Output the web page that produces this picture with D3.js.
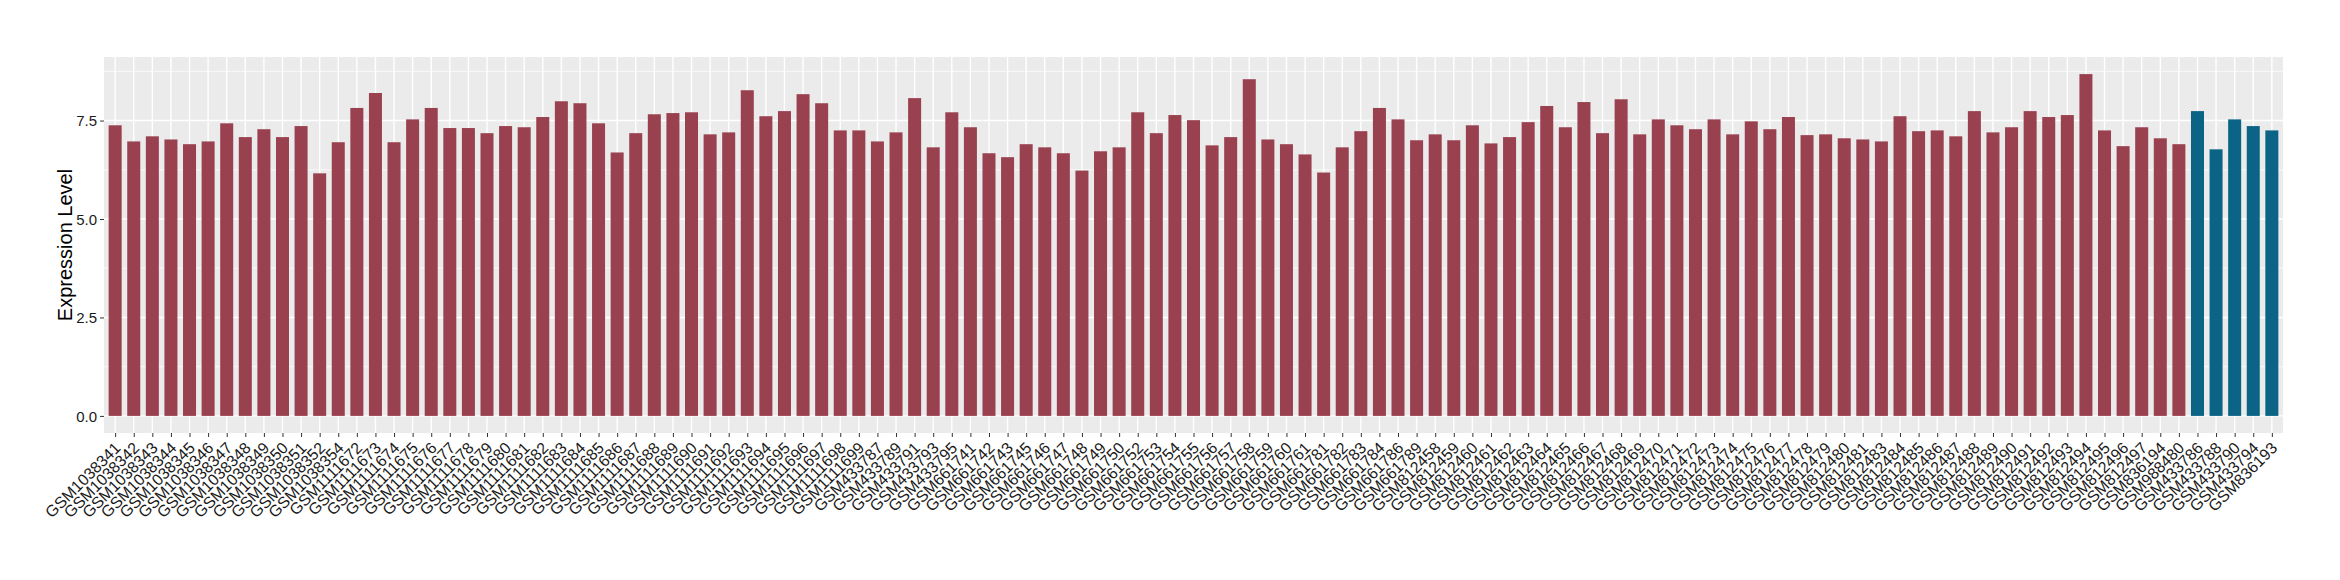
<!DOCTYPE html>
<html>
<head>
<meta charset="utf-8">
<script src="https://cdn.jsdelivr.net/npm/d3@7"></script>
<style>
    body { margin: 0; background: #ffffff; }
    .panel { fill: #ebebeb; }
    .gridMajor { stroke: #ffffff; stroke-width: 1.4; }
    .gridMinor { stroke: #ffffff; stroke-width: 0.7; }
    .axis text { font-family: "Liberation Sans", Arial, sans-serif; font-size: 15px; fill: #1a1a1a; }
    .xAxis text { font-size: 16px; }
    .axis line { stroke: #333333; }
    .axisTitle { font-family: "Liberation Sans", Arial, sans-serif; font-size: 20px; fill: #000000; }
</style>
</head>
<body>
<script>
//sample ids along the x axis
var samples = [
    "GSM1038341","GSM1038342","GSM1038343","GSM1038344","GSM1038345","GSM1038346","GSM1038347",
    "GSM1038348","GSM1038349","GSM1038350","GSM1038351","GSM1038352","GSM1038354",
    "GSM1111672","GSM1111673","GSM1111674","GSM1111675","GSM1111676","GSM1111677","GSM1111678",
    "GSM1111679","GSM1111680","GSM1111681","GSM1111682","GSM1111683","GSM1111684","GSM1111685",
    "GSM1111686","GSM1111687","GSM1111688","GSM1111689","GSM1111690","GSM1111691","GSM1111692",
    "GSM1111693","GSM1111694","GSM1111695","GSM1111696","GSM1111697","GSM1111698","GSM1111699",
    "GSM433787","GSM433789","GSM433791","GSM433793","GSM433795",
    "GSM661741","GSM661742","GSM661743","GSM661745","GSM661746","GSM661747","GSM661748",
    "GSM661749","GSM661750","GSM661752","GSM661753","GSM661754","GSM661755","GSM661756",
    "GSM661757","GSM661758","GSM661759","GSM661760","GSM661761","GSM661781","GSM661782",
    "GSM661783","GSM661784","GSM661786","GSM661789",
    "GSM812458","GSM812459","GSM812460","GSM812461","GSM812462","GSM812463","GSM812464",
    "GSM812465","GSM812466","GSM812467","GSM812468","GSM812469","GSM812470","GSM812471",
    "GSM812472","GSM812473","GSM812474","GSM812475","GSM812476","GSM812477","GSM812478",
    "GSM812479","GSM812480","GSM812481","GSM812483","GSM812484","GSM812485","GSM812486",
    "GSM812487","GSM812488","GSM812489","GSM812490","GSM812491","GSM812492","GSM812493",
    "GSM812494","GSM812495","GSM812496","GSM812497",
    "GSM836194","GSM988480",
    "GSM433786","GSM433788","GSM433790","GSM433794","GSM836193"
];

//expression level of each sample, same order
var expression = [
    7.38, 6.97, 7.10, 7.02, 6.90, 6.97, 7.43, 7.08, 7.28, 7.08, 7.36, 6.16, 6.95,
    7.82, 8.20, 6.95, 7.53, 7.82, 7.31, 7.31, 7.18, 7.36, 7.33, 7.59, 7.99, 7.94, 7.43,
    6.69, 7.18, 7.66, 7.69, 7.71, 7.15, 7.20, 8.27, 7.61, 7.74, 8.17, 7.94, 7.25, 7.25,
    6.97, 7.20, 8.07, 6.82, 7.71,
    7.33, 6.67, 6.57, 6.90, 6.82, 6.67, 6.23, 6.72, 6.82, 7.71, 7.18, 7.64, 7.51, 6.87,
    7.08, 8.55, 7.02, 6.90, 6.64, 6.18, 6.82, 7.23, 7.82, 7.53, 7.00,
    7.15, 7.00, 7.38, 6.92, 7.08, 7.46, 7.87, 7.33, 7.97, 7.18, 8.04, 7.15, 7.53, 7.38,
    7.28, 7.53, 7.15, 7.48, 7.28, 7.59, 7.13, 7.15, 7.05, 7.02, 6.97, 7.61, 7.23, 7.25,
    7.10, 7.74, 7.20, 7.33, 7.74, 7.59, 7.64, 8.68, 7.25, 6.85, 7.33,
    7.05, 6.90,
    7.74, 6.77, 7.53, 7.36, 7.25
];

//samples drawn in the second colour
var highlighted = ["GSM433786","GSM433788","GSM433790","GSM433794","GSM836193"];

//y axis tick labels
var yTicks = [0, 2.5, 5, 7.5];
var yMinor = [1.25, 3.75, 6.25, 8.75];

window.onload = function(){
    setChart();
};

function setChart(){
    var width = 2340,
        height = 580;

    //panel edges
    var left = 104,
        right = 2283,
        top = 57,
        bottom = 433;

    var svg = d3.select("body")
        .append("svg")
        .attr("width", width)
        .attr("height", height);

    //ggplot style discrete scale, 0.6 band padding on each end
    var n = samples.length;
    var step = (right - left) / (n - 1 + 1.2);
    var xScale = d3.scalePoint()
        .domain(samples)
        .range([left + 0.6 * step, right - 0.6 * step]);

    //5% expansion on the y range
    var yMax = d3.max(expression);
    var yScale = d3.scaleLinear()
        .domain([-yMax * 0.05, yMax * 1.05])
        .range([bottom, top]);

    svg.append("rect")
        .attr("class", "panel")
        .attr("x", left)
        .attr("y", top)
        .attr("width", right - left)
        .attr("height", bottom - top);

    //minor then major grid lines
    svg.selectAll(".gridMinor")
        .data(yMinor)
        .enter()
        .append("line")
        .attr("class", "gridMinor")
        .attr("x1", left)
        .attr("x2", right)
        .attr("y1", function(d){ return yScale(d); })
        .attr("y2", function(d){ return yScale(d); });

    svg.selectAll(".gridY")
        .data(yTicks)
        .enter()
        .append("line")
        .attr("class", "gridMajor gridY")
        .attr("x1", left)
        .attr("x2", right)
        .attr("y1", function(d){ return yScale(d); })
        .attr("y2", function(d){ return yScale(d); });

    svg.selectAll(".gridX")
        .data(samples)
        .enter()
        .append("line")
        .attr("class", "gridMajor gridX")
        .attr("x1", function(d){ return xScale(d); })
        .attr("x2", function(d){ return xScale(d); })
        .attr("y1", top)
        .attr("y2", bottom);

    //bars
    var barWidth = step * 0.7;
    svg.selectAll(".bars")
        .data(samples)
        .enter()
        .append("rect")
        .attr("class", "bars")
        .attr("x", function(d){ return xScale(d) - barWidth / 2; })
        .attr("width", barWidth)
        .attr("y", function(d, i){ return yScale(expression[i]); })
        .attr("height", function(d, i){ return yScale(0) - yScale(expression[i]); })
        .style("fill", function(d){
            return highlighted.indexOf(d) >= 0 ? "#0b6485" : "#9a4150";
        });

    //y axis
    var yAxis = d3.axisLeft(yScale)
        .tickValues(yTicks)
        .tickFormat(d3.format(".1f"))
        .tickSize(4)
        .tickPadding(3);

    var gy = svg.append("g")
        .attr("class", "axis")
        .attr("transform", "translate(" + left + ",0)")
        .call(yAxis);
    gy.select(".domain").remove();
    gy.selectAll("text").attr("dy", "0.36em");

    //x axis with rotated labels
    var xAxis = d3.axisBottom(xScale)
        .tickSize(4)
        .tickPadding(0);

    var gx = svg.append("g")
        .attr("class", "axis xAxis")
        .attr("transform", "translate(0," + bottom + ")")
        .call(xAxis);
    gx.select(".domain").remove();
    gx.selectAll("text")
        .attr("text-anchor", "end")
        .attr("x", 0)
        .attr("y", 0)
        .attr("dy", null)
        .attr("transform", "translate(6,16) rotate(-45)");

    //axis title
    svg.append("text")
        .attr("class", "axisTitle")
        .attr("text-anchor", "middle")
        .attr("transform", "translate(" + 72 + "," + ((top + bottom) / 2) + ") rotate(-90)")
        .text("Expression Level");
}
</script>
</body>
</html>
